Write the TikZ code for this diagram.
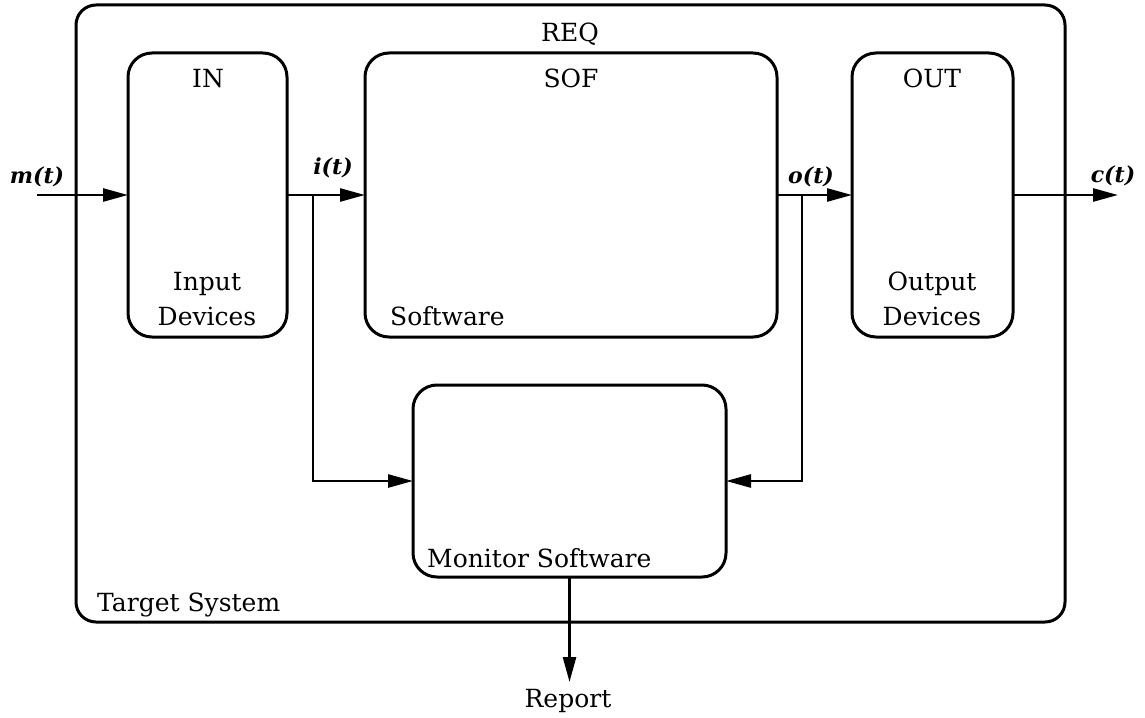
\documentclass[tikz,border=0pt]{standalone}
\usepackage{fontspec}
\setmainfont{DejaVu Serif}
\usetikzlibrary{arrows.meta}
\begin{document}
\begin{tikzpicture}[x=1pt,y=-1pt,
  blk/.style={draw, line width=3pt, rounded corners=24pt, inner sep=0pt, outer sep=0pt},
  flow/.style={line width=2.6pt, -{Triangle[length=25pt,width=13pt]}},
  txt/.style={font=\fontsize{25}{35}\selectfont, inner sep=0pt, anchor=base},
  sig/.style={font=\fontsize{22}{26}\selectfont\bfseries\itshape, inner sep=0pt, anchor=base}]
\useasboundingbox (0,0) rectangle (1145,717);

% blocks
\node[blk, rounded corners=20pt, minimum width=989pt, minimum height=617pt] (req) at (570.5,313.5) {};
\node[blk, minimum width=159pt, minimum height=284pt] (in)  at (207.5,195) {};
\node[blk, minimum width=412pt, minimum height=284pt] (sof) at (571,195) {};
\node[blk, minimum width=161pt, minimum height=284pt] (out) at (932.5,195) {};
\node[blk, minimum width=313pt, minimum height=192pt] (mon) at (569.5,481) {};

% block titles and captions
\node[txt] (reqt) at (570,42) {REQ};
\node[txt] (int)  at (208,88) {IN};
\node[txt] (soft) at (571,88) {SOF};
\node[txt] (outt) at (932,88) {OUT};
\node[txt, align=center] (inc) at (207,325) {Input\\Devices};
\node[txt, align=center] (outc) at (932,325) {Output\\Devices};
\node[txt, anchor=base west] (sofc) at (390,325) {Software};
\node[txt, anchor=base west] (monc) at (427,567) {Monitor Software};
\node[txt, anchor=base west] (reqc) at (97,611) {Target System};
\node[txt] (rept) at (568,707) {Report};

% signal labels
\node[sig] (ml) at (37,183) {m(t)};
\node[sig] (il) at (333,174) {i(t)};
\node[sig] (ol) at (811,183) {o(t)};
\node[sig] (cl) at (1113,182) {c(t)};

% connectors
\coordinate (m0) at (37,195);
\coordinate (bi) at (313,195);
\coordinate (bo) at (802,195);
\coordinate (c1) at (1118,195);
\coordinate (r1) at (569.5,682);
\draw[flow] (m0) -- (in.west);
\draw[flow] (in.east) -- (sof.west);
\draw[flow] (sof.east) -- (out.west);
\draw[flow] (out.east) -- (c1);
\draw[flow] (bi) |- (mon.west);
\draw[flow] (bo) |- (mon.east);
\draw[flow] (mon.south) -- (r1);
\end{tikzpicture}
\end{document}
